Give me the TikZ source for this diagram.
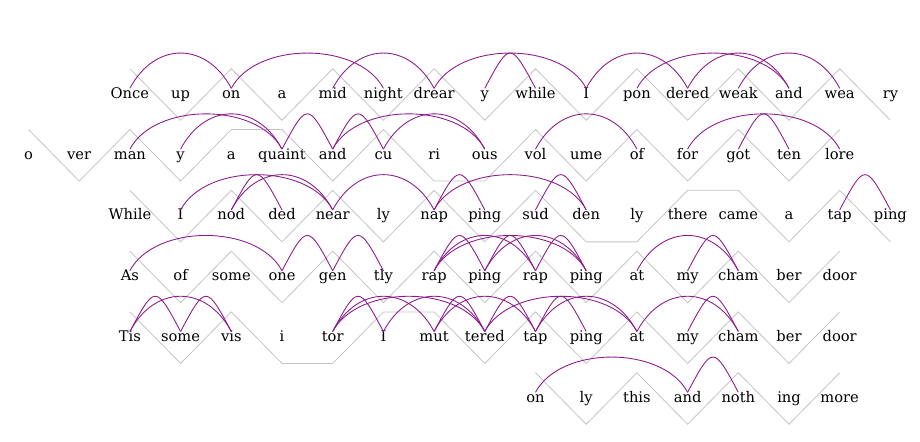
\documentclass[tikz,border=0pt]{standalone}
\usepackage{fontspec}
\setmainfont{DejaVu Serif}
\usepackage{tikz}
\usetikzlibrary{positioning,calc}
\definecolor{mygray}{RGB}{196, 196, 196}
\definecolor{mypurple}{RGB}{139, 26, 139}
\tikzstyle{syl}=[inner sep=0pt,minimum height=38.25pt,text height=7.7pt,text depth=2pt,font=\fontsize{11pt}{13pt}\selectfont]
\tikzstyle{meter}=[draw=mygray,line width=0.6pt]
\tikzstyle{rhyme}=[draw=mypurple,line width=0.65pt,to path={([yshift=4.65pt]\tikztostart.center) .. controls +(18.75pt,35.25pt) and +(-18.75pt,35.25pt) .. ([yshift=4.65pt]\tikztotarget.center)}]

\begin{document}
\begin{tikzpicture}[x=0.75pt,y=-0.75pt]
      \useasboundingbox (0,0) rectangle (920,442);

      \node (a1) at (129.9,94.5) [syl] {Once};
      \node (a2) at (180.6,94.5) [syl] {up};
      \node (a3) at (231.3,94.5) [syl] {on};
      \node (a4) at (282.0,94.5) [syl] {a};
      \node (a5) at (332.7,94.5) [syl] {mid};
      \node (a6) at (383.4,94.5) [syl] {night};
      \node (a7) at (434.1,94.5) [syl] {drear};
      \node (a8) at (484.8,94.5) [syl] {y};
      \node (a9) at (535.5,94.5) [syl] {while};
      \node (a10) at (586.2,94.5) [syl] {I};
      \node (a11) at (636.9,94.5) [syl] {pon};
      \node (a12) at (687.6,94.5) [syl] {dered};
      \node (a13) at (738.3,94.5) [syl] {weak};
      \node (a14) at (789.0,94.5) [syl] {and};
      \node (a15) at (839.7,94.5) [syl] {wea};
      \node (a16) at (890.4,94.5) [syl] {ry};

      \node (b1) at (28.5,155.3) [syl] {o};
      \node (b2) at (79.2,155.3) [syl] {ver};
      \node (b3) at (129.9,155.3) [syl] {man};
      \node (b4) at (180.6,155.3) [syl] {y};
      \node (b5) at (231.3,155.3) [syl] {a};
      \node (b6) at (282.0,155.3) [syl] {quaint};
      \node (b7) at (332.7,155.3) [syl] {and};
      \node (b8) at (383.4,155.3) [syl] {cu};
      \node (b9) at (434.1,155.3) [syl] {ri};
      \node (b10) at (484.8,155.3) [syl] {ous};
      \node (b11) at (535.5,155.3) [syl] {vol};
      \node (b12) at (586.2,155.3) [syl] {ume};
      \node (b13) at (636.9,155.3) [syl] {of};
      \node (b14) at (687.6,155.3) [syl] {for};
      \node (b15) at (738.3,155.3) [syl] {got};
      \node (b16) at (789.0,155.3) [syl] {ten};
      \node (b17) at (839.7,155.3) [syl] {lore};

      \node (c1) at (129.9,216.1) [syl] {While};
      \node (c2) at (180.6,216.1) [syl] {I};
      \node (c3) at (231.3,216.1) [syl] {nod};
      \node (c4) at (282.0,216.1) [syl] {ded};
      \node (c5) at (332.7,216.1) [syl] {near};
      \node (c6) at (383.4,216.1) [syl] {ly};
      \node (c7) at (434.1,216.1) [syl] {nap};
      \node (c8) at (484.8,216.1) [syl] {ping};
      \node (c9) at (535.5,216.1) [syl] {sud};
      \node (c10) at (586.2,216.1) [syl] {den};
      \node (c11) at (636.9,216.1) [syl] {ly};
      \node (c12) at (687.6,216.1) [syl] {there};
      \node (c13) at (738.3,216.1) [syl] {came};
      \node (c14) at (789.0,216.1) [syl] {a};
      \node (c15) at (839.7,216.1) [syl] {tap};
      \node (c16) at (890.4,216.1) [syl] {ping};

      \node (d1) at (129.9,276.9) [syl] {As};
      \node (d2) at (180.6,276.9) [syl] {of};
      \node (d3) at (231.3,276.9) [syl] {some};
      \node (d4) at (282.0,276.9) [syl] {one};
      \node (d5) at (332.7,276.9) [syl] {gen};
      \node (d6) at (383.4,276.9) [syl] {tly};
      \node (d7) at (434.1,276.9) [syl] {rap};
      \node (d8) at (484.8,276.9) [syl] {ping};
      \node (d9) at (535.5,276.9) [syl] {rap};
      \node (d10) at (586.2,276.9) [syl] {ping};
      \node (d11) at (636.9,276.9) [syl] {at};
      \node (d12) at (687.6,276.9) [syl] {my};
      \node (d13) at (738.3,276.9) [syl] {cham};
      \node (d14) at (789.0,276.9) [syl] {ber};
      \node (d15) at (839.7,276.9) [syl] {door};

      \node (e1) at (129.9,337.7) [syl] {Tis};
      \node (e2) at (180.6,337.7) [syl] {some};
      \node (e3) at (231.3,337.7) [syl] {vis};
      \node (e4) at (282.0,337.7) [syl] {i};
      \node (e5) at (332.7,337.7) [syl] {tor};
      \node (e6) at (383.4,337.7) [syl] {I};
      \node (e7) at (434.1,337.7) [syl] {mut};
      \node (e8) at (484.8,337.7) [syl] {tered};
      \node (e9) at (535.5,337.7) [syl] {tap};
      \node (e10) at (586.2,337.7) [syl] {ping};
      \node (e11) at (636.9,337.7) [syl] {at};
      \node (e12) at (687.6,337.7) [syl] {my};
      \node (e13) at (738.3,337.7) [syl] {cham};
      \node (e14) at (789.0,337.7) [syl] {ber};
      \node (e15) at (839.7,337.7) [syl] {door};

      \node (f1) at (535.5,398.5) [syl] {on};
      \node (f2) at (586.2,398.5) [syl] {ly};
      \node (f3) at (636.9,398.5) [syl] {this};
      \node (f4) at (687.6,398.5) [syl] {and};
      \node (f5) at (738.3,398.5) [syl] {noth};
      \node (f6) at (789.0,398.5) [syl] {ing};
      \node (f7) at (839.7,398.5) [syl] {more};

      \draw[meter] (a1.north) -- (a2.south) -- (a3.north) -- (a4.south) -- (a5.north) -- (a6.south) -- (a7.north) -- (a8.south) -- (a9.north) -- (a10.south) -- (a11.north) -- (a12.south) -- (a13.north) -- (a14.south) -- (a15.north) -- (a16.south);
      \draw[meter] (b1.north) -- (b2.south) -- (b3.north) -- (b4.south) -- (b5.north) -- (b6.north) -- (b7.south) -- (b8.north) -- (b9.south) -- (b10.south) -- (b11.north) -- (b12.south) -- (b13.north) -- (b14.south) -- (b15.north) -- (b16.south) -- (b17.north);
      \draw[meter] (c1.north) -- (c2.south) -- (c3.north) -- (c4.south) -- (c5.north) -- (c6.south) -- (c7.north) -- (c8.south) -- (c9.north) -- (c10.south) -- (c11.south) -- (c12.north) -- (c13.north) -- (c14.south) -- (c15.north) -- (c16.south);
      \draw[meter] (d1.north) -- (d2.south) -- (d3.north) -- (d4.south) -- (d5.north) -- (d6.south) -- (d7.north) -- (d8.south) -- (d9.north) -- (d10.south) -- (d11.north) -- (d12.south) -- (d13.north) -- (d14.south) -- (d15.north);
      \draw[meter] (e1.north) -- (e2.south) -- (e3.north) -- (e4.south) -- (e5.south) -- (e6.north) -- (e7.north) -- (e8.south) -- (e9.north) -- (e10.south) -- (e11.north) -- (e12.south) -- (e13.north) -- (e14.south) -- (e15.north);
      \draw[meter] (f1.north) -- (f2.south) -- (f3.north) -- (f4.south) -- (f5.north) -- (f6.south) -- (f7.north);

      \draw[rhyme] (a1) to (a3);
      \draw[rhyme] (a3) to (a6);
      \draw[rhyme] (a5) to (a7);
      \draw[rhyme] (a7) to (a10);
      \draw[rhyme] (a8) to (a9);
      \draw[rhyme] (a10) to (a12);
      \draw[rhyme] (a11) to (a14);
      \draw[rhyme] (a12) to (a14);
      \draw[rhyme] (a13) to (a15);

      \draw[rhyme] (b3) to (b6);
      \draw[rhyme] (b4) to (b6);
      \draw[rhyme] (b6) to (b7);
      \draw[rhyme] (b7) to (b8);
      \draw[rhyme] (b7) to (b10);
      \draw[rhyme] (b8) to (b10);
      \draw[rhyme] (b11) to (b13);
      \draw[rhyme] (b14) to (b17);
      \draw[rhyme] (b15) to (b16);

      \draw[rhyme] (c2) to (c5);
      \draw[rhyme] (c3) to (c4);
      \draw[rhyme] (c3) to (c5);
      \draw[rhyme] (c5) to (c7);
      \draw[rhyme] (c7) to (c8);
      \draw[rhyme] (c7) to (c10);
      \draw[rhyme] (c9) to (c10);
      \draw[rhyme] (c15) to (c16);

      \draw[rhyme] (d1) to (d4);
      \draw[rhyme] (d4) to (d5);
      \draw[rhyme] (d5) to (d6);
      \draw[rhyme] (d7) to (d8);
      \draw[rhyme] (d7) to (d9);
      \draw[rhyme] (d7) to (d10);
      \draw[rhyme] (d8) to (d9);
      \draw[rhyme] (d8) to (d10);
      \draw[rhyme] (d9) to (d10);
      \draw[rhyme] (d11) to (d13);
      \draw[rhyme] (d12) to (d13);

      \draw[rhyme] (e1) to (e2);
      \draw[rhyme] (e1) to (e3);
      \draw[rhyme] (e2) to (e3);
      \draw[rhyme] (e5) to (e6);
      \draw[rhyme] (e5) to (e7);
      \draw[rhyme] (e5) to (e8);
      \draw[rhyme] (e6) to (e8);
      \draw[rhyme] (e7) to (e8);
      \draw[rhyme] (e7) to (e9);
      \draw[rhyme] (e8) to (e9);
      \draw[rhyme] (e8) to (e11);
      \draw[rhyme] (e9) to (e10);
      \draw[rhyme] (e9) to (e11);
      \draw[rhyme] (e11) to (e13);
      \draw[rhyme] (e12) to (e13);

      \draw[rhyme] (f1) to (f4);
      \draw[rhyme] (f4) to (f5);
    \end{tikzpicture}
\end{document}
